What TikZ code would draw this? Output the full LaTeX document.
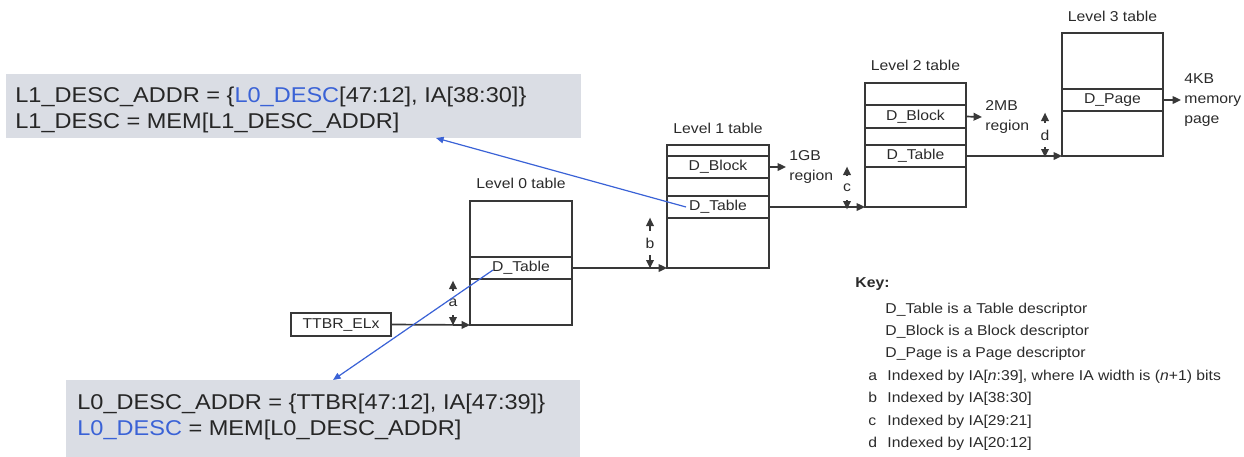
\documentclass[tikz,border=0pt]{standalone}
\usepackage{fontspec}
\setmainfont{Liberation Sans}[FakeStretch=1.1]
\usetikzlibrary{arrows.meta,calc}
\definecolor{boxgrey}{HTML}{DADDE4}
\definecolor{descblue}{HTML}{3A62D6}
\definecolor{linegrey}{HTML}{383838}
\definecolor{txt}{HTML}{2A2A2A}
\begin{document}
\begin{tikzpicture}[x=0.5pt,y=-0.5pt,
  every node/.style={text=txt, font=\fontsize{7.15}{10}\selectfont},
  tbl/.style={draw=linegrey, line width=0.85pt, minimum width=51pt, inner sep=0pt, outer sep=0pt},
  rowbox/.style={draw=linegrey, line width=0.85pt, minimum width=51pt, inner sep=0pt, outer sep=0pt},
  arr/.style={draw=linegrey, line width=0.85pt, -{Triangle[length=4.2pt,width=3.8pt]}},
  blu/.style={draw=descblue, line width=0.6pt, -{Triangle[length=3.8pt,width=3.2pt]}},
  dimlbl/.style={inner sep=0pt, minimum height=12pt},
  greybox/.style={fill=boxgrey, draw=none, inner sep=0pt, outer sep=0pt},
  big/.style={font=\fontsize{10.7}{13}\selectfont, text=black!85, inner sep=0pt, anchor=base west},
  keyt/.style={inner sep=0pt, anchor=base west},
  lvl/.style={inner sep=0pt},
  region/.style={inner sep=1.5pt, anchor=west, align=left}]
\useasboundingbox (0,0) rectangle (1244,456);

% grey formula boxes
\node[greybox, minimum width=287.5pt, minimum height=32pt] (top) at (293.5,106) {};
\node[greybox, minimum width=257pt, minimum height=40pt] (bot) at (323,420) {};
\node[big] (t1) at (15,102) {L1\_DESC\_ADDR = \{\textcolor{descblue}{L0\_DESC}[47:12], IA[38:30]\}};
\node[big] (t2) at (15,128) {L1\_DESC = MEM[L1\_DESC\_ADDR]};
\node[big] (b1) at (77,409) {L0\_DESC\_ADDR = \{TTBR[47:12], IA[47:39]\}};
\node[big] (b2) at (77,435) {\textcolor{descblue}{L0\_DESC} = MEM[L0\_DESC\_ADDR]};

% TTBR
\node[draw=linegrey, line width=0.85pt, minimum width=50pt, minimum height=11.5pt, inner sep=0pt, outer sep=0pt] (ttbr) at (341,324.5) {TTBR\_ELx};

% Level 0
\node[tbl, minimum height=62pt] (L0) at (521,263) {};
\node[rowbox, minimum height=11pt] (L0t) at (521,268) {D\_Table};
\node[lvl] (L0l) at ($(L0.north)+(0,-18)$) {Level 0 table};

% Level 1
\node[tbl, minimum height=61.5pt] (L1) at (718,206.5) {};
\node[rowbox, minimum height=11pt] (L1b) at (718,167) {D\_Block};
\node[rowbox, minimum height=11pt] (L1t) at (718,207) {D\_Table};
\node[lvl] (L1l) at ($(L1.north)+(0,-17)$) {Level 1 table};

% Level 2
\node[tbl, minimum width=50.5pt, minimum height=62pt] (L2) at (915.5,145) {};
\node[rowbox, minimum width=50.5pt, minimum height=11.5pt] (L2b) at (915.5,116.5) {D\_Block};
\node[rowbox, minimum width=50.5pt, minimum height=11pt] (L2t) at (915.5,156) {D\_Table};
\node[lvl] (L2l) at ($(L2.north)+(0,-18)$) {Level 2 table};

% Level 3
\node[tbl, minimum width=50.5pt, minimum height=61.5pt] (L3) at (1112.5,94.5) {};
\node[rowbox, minimum width=50.5pt, minimum height=11pt] (L3p) at (1112.5,100) {D\_Page};
\node[lvl] (L3l) at ($(L3.north)+(0,-17)$) {Level 3 table};

% region texts
\node[region] (r1) at (786,167) {1GB\\region};
\node[region] (r2) at (982,117) {2MB\\region};
\node[region] (r3) at (1181,100) {4KB\\memory\\page};

% pointer arrows
\draw[arr] (ttbr.east) -- (L0.south west);
\draw[arr] (L0t.east) -- (L1.south west);
\draw[arr] (L1t.east) -- (L2.south west);
\draw[arr] (L2t.east) -- (L3.south west);
\draw[arr] (L1b.east) -- (r1.west);
\draw[arr] (L2b.east) -- (r2.west);
\draw[arr] (L3p.east) -- (r3.west);

% index dimension arrows
\node[dimlbl] (da) at (453,303) {a};
\draw[arr] (da.north) -- ++(0,-10);
\draw[arr] (da.south) -- ++(0,10);
\node[dimlbl] (db) at (650,243) {b};
\draw[arr] (db.north) -- ++(0,-13);
\draw[arr] (db.south) -- ++(0,13);
\node[dimlbl] (dc) at (847,188) {c};
\draw[arr] (dc.north) -- ++(0,-9);
\draw[arr] (dc.south) -- ++(0,9);
\node[dimlbl] (dd) at (1045,135) {d};
\draw[arr] (dd.north) -- ++(0,-10);
\draw[arr] (dd.south) -- ++(0,10);

% blue annotation arrows
\coordinate (s1) at (686,207);
\coordinate (s0) at (493,270);
\draw[blu] (s1) -- ($(top.south west)+(430,0)$);
\draw[blu] (s0) -- ($(bot.north west)+(267,0)$);

% key
\node[keyt, font=\bfseries\fontsize{7.15}{10}\selectfont] (key) at (855,287) {Key:};
\node[keyt] (k1) at (885,313) {D\_Table is a Table descriptor};
\node[keyt] (k2) at (885,335) {D\_Block is a Block descriptor};
\node[keyt] (k3) at (885,357) {D\_Page is a Page descriptor};
\node[keyt] (ka) at (868,380) {a};
\node[keyt] (kat) at (887,380) {Indexed by IA[\textit{n}:39], where IA width is (\textit{n}+1) bits};
\node[keyt] (kb) at (868,402) {b};
\node[keyt] (kbt) at (887,402) {Indexed by IA[38:30]};
\node[keyt] (kc) at (868,425) {c};
\node[keyt] (kct) at (887,425) {Indexed by IA[29:21]};
\node[keyt] (kd) at (868,447) {d};
\node[keyt] (kdt) at (887,447) {Indexed by IA[20:12]};
\end{tikzpicture}
\end{document}
